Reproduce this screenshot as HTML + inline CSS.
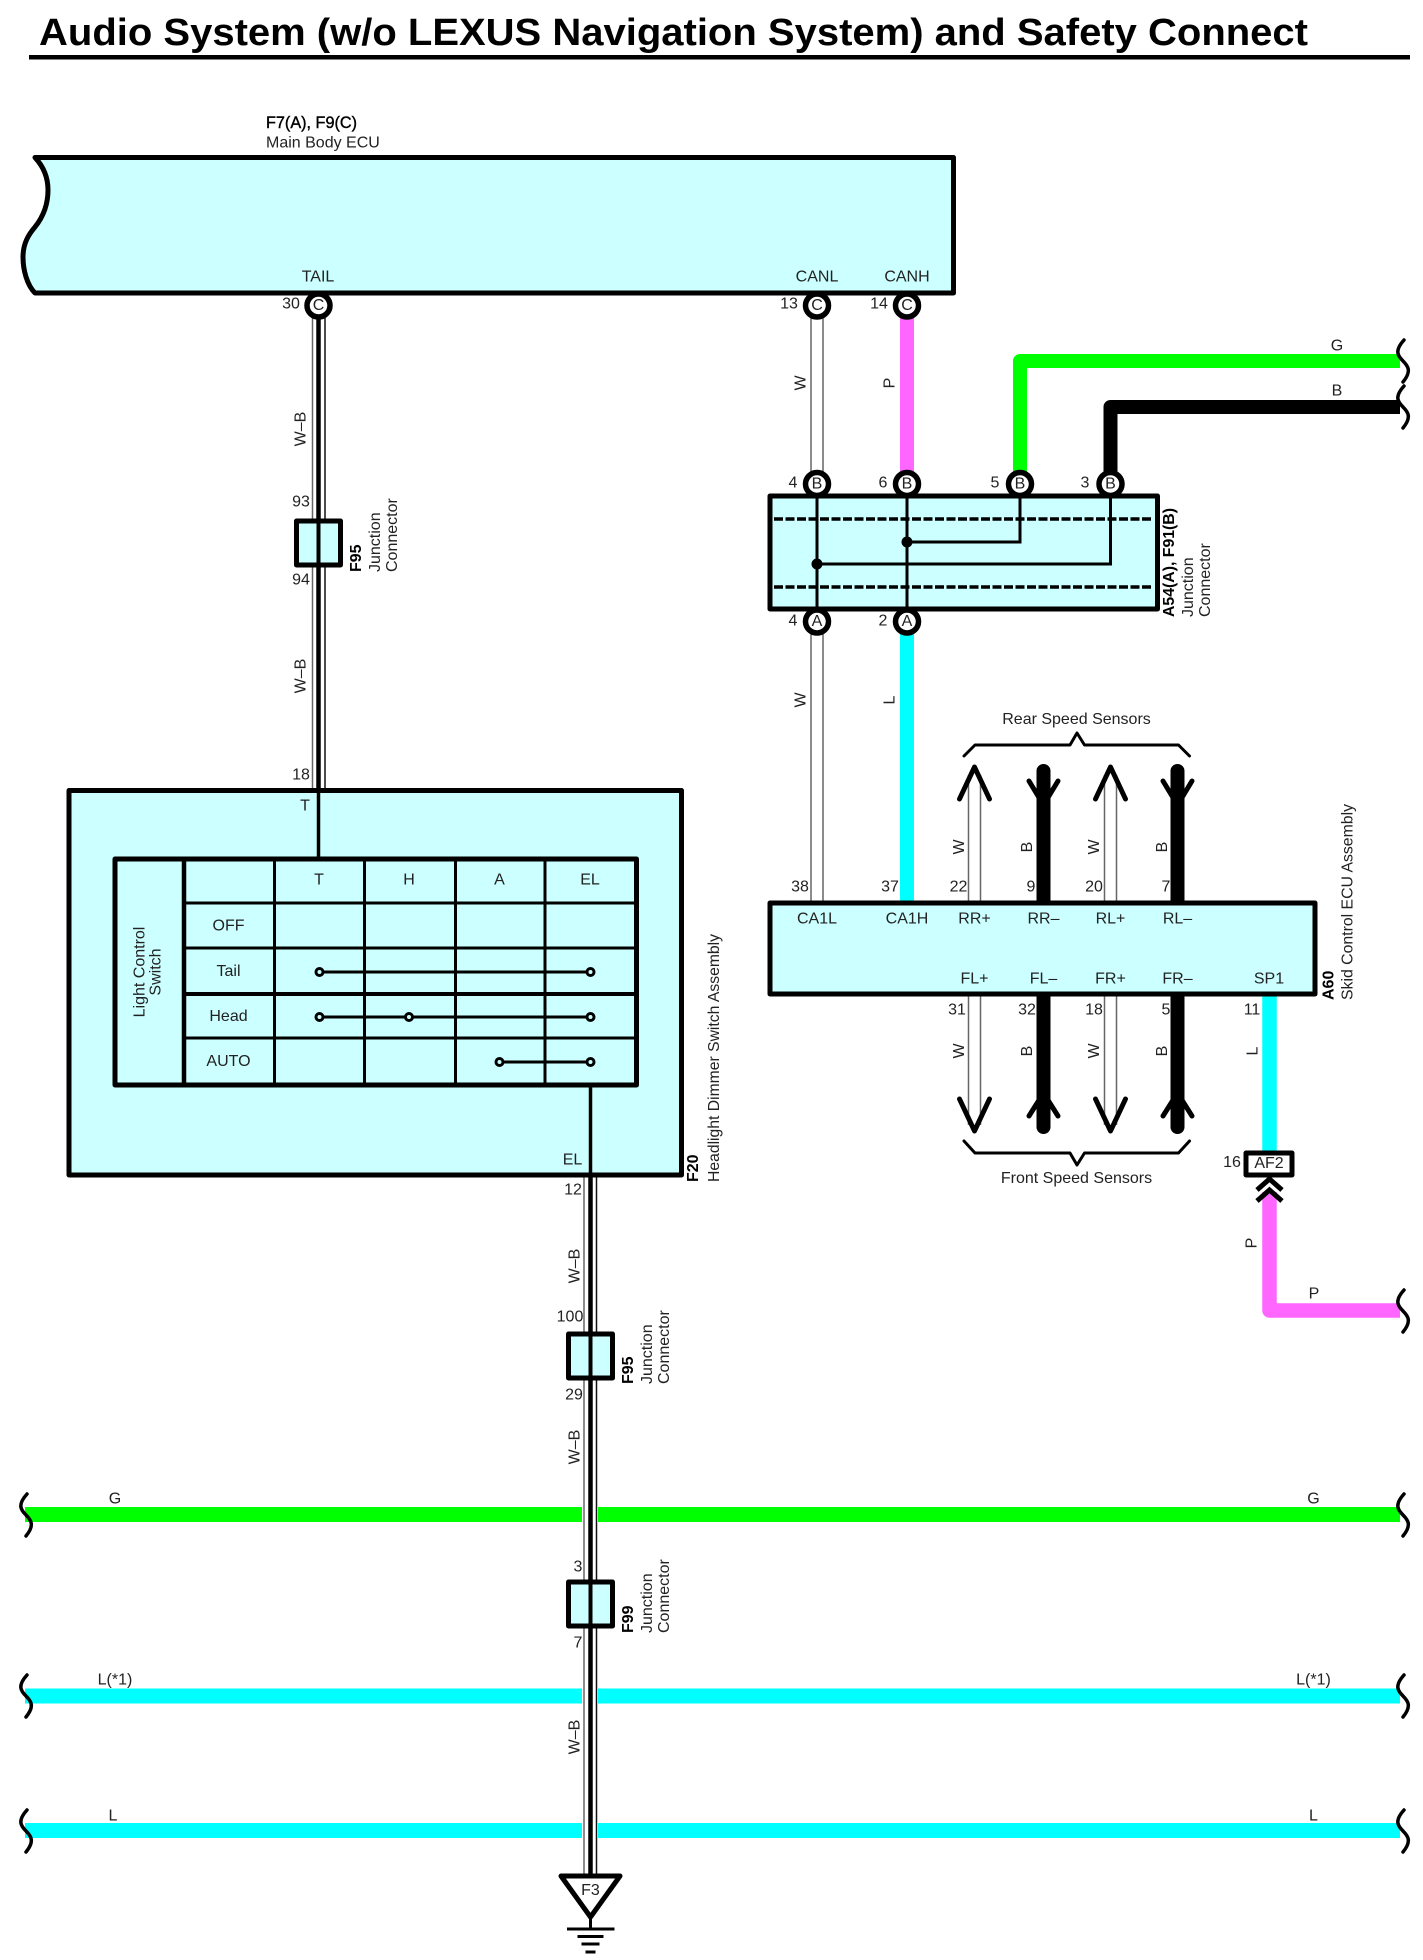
<!DOCTYPE html>
<html><head><meta charset="utf-8"><style>
html,body{margin:0;padding:0;background:#fff}
svg{display:block}
text{font-family:"Liberation Sans",sans-serif;font-size:16px;fill:#222;text-anchor:middle;dominant-baseline:central}
.s{text-anchor:start;dominant-baseline:alphabetic}
.b{font-weight:bold;fill:#000}
.box{fill:#ccffff;stroke:#000;stroke-width:5;stroke-linejoin:round}
.c{fill:#fff;stroke:#000;stroke-width:5.5}
.gr{stroke:#666;stroke-width:1.5;fill:none}
.bl{stroke:#111;stroke-width:1.5;fill:none}
.k{stroke:#000;fill:none}
.sq{stroke:#000;stroke-width:3.5;fill:none;stroke-linecap:round}
</style></head><body>
<svg xmlns="http://www.w3.org/2000/svg" width="1423" height="1960" viewBox="0 0 1423 1960">
<rect width="1423" height="1960" fill="#fff"/>
<text class="s b" x="39" y="45" style="font-size:38px" textLength="1269" lengthAdjust="spacingAndGlyphs">Audio System (w/o LEXUS Navigation System) and Safety Connect</text>
<rect x="29" y="55" width="1381" height="4.5" fill="#000"/>

<text class="s b" x="266" y="128" textLength="91" lengthAdjust="spacingAndGlyphs" style="font-size:17px;font-weight:normal;stroke:#000;stroke-width:.4">F7(A), F9(C)</text>
<text class="s" x="266" y="147.5">Main Body ECU</text>

<!-- colored wires -->
<g fill="none" stroke-linejoin="round">
<path d="M907 318V484" stroke="#ff66ff" stroke-width="14"/>
<path d="M1020 484V361H1400" stroke="#00ff00" stroke-width="14"/>
<path d="M1110.500 484V407H1400" stroke="#000" stroke-width="14"/>
<path d="M907 620V903" stroke="#00ffff" stroke-width="14"/>
<path d="M1269.500 994V1152" stroke="#00ffff" stroke-width="14.500"/>
<path d="M1269.500 1192V1310.500H1400" stroke="#ff66ff" stroke-width="14.500"/>
<path d="M25 1514.500H582M598 1514.500H1400" stroke="#00ff00" stroke-width="15"/>
<path d="M25 1696H582M598 1696H1400" stroke="#00ffff" stroke-width="15"/>
<path d="M25 1830.500H582M598 1830.500H1400" stroke="#00ffff" stroke-width="15"/>
</g>

<!-- squiggles -->
<g class="sq">
<path class="sq" d="M1404 340C1394 351 1398 356 1403 361C1408 366 1412 371 1403 382"/>
<path class="sq" d="M1404 386C1394 397 1398 402 1403 407C1408 412 1412 417 1403 428"/>
<path class="sq" d="M1404 1290C1394 1301 1398 1306 1403 1311C1408 1316 1412 1321 1403 1332"/>
<path class="sq" d="M1404 1494C1394 1505 1398 1510 1403 1515C1408 1520 1412 1525 1403 1536"/>
<path class="sq" d="M1404 1675C1394 1686 1398 1691 1403 1696C1408 1701 1412 1706 1403 1717"/>
<path class="sq" d="M1404 1810C1394 1821 1398 1826 1403 1831C1408 1836 1412 1841 1403 1852"/>
<path class="sq" d="M27 1494C17 1505 21 1510 26 1515C31 1520 35 1525 26 1536"/>
<path class="sq" d="M27 1675C17 1686 21 1691 26 1696C31 1701 35 1706 26 1717"/>
<path class="sq" d="M27 1810C17 1821 21 1826 26 1831C31 1836 35 1841 26 1852"/>
</g>

<!-- W-B wires -->
<path class="gr" d="M312.500 318V792"/><path class="bl" d="M325 318V792"/><path class="k" stroke-width="4.500" d="M318.500 318V792"/>
<path class="gr" d="M584 1175V1876"/><path class="bl" d="M596.500 1175V1876"/><path class="k" stroke-width="4.500" d="M590.500 1175V1876"/>

<!-- W wires -->
<path class="gr" d="M811 318V484M823 318V484M811 620V903M823 620V903"/>
<path class="gr" d="M968.500 775V903M980.500 775V903M1104.500 775V903M1116.500 775V903"/>
<path class="gr" d="M968.500 994V1125M980.500 994V1125M1104.500 994V1125M1116.500 994V1125"/>

<!-- black sensor wires -->
<g class="k" stroke-linecap="round" stroke-width="14">
<path d="M1043.500 771V903M1177.500 771V903M1043.500 994V1127M1177.500 994V1127"/>
</g>
<g class="k" stroke-width="5" stroke-linecap="round" stroke-linejoin="round">
<path d="M959.500 799L974.500 767L989.500 799M1095.500 799L1110.500 767L1125.500 799"/>
<path d="M959.500 1099L974.500 1131L989.500 1099M1095.500 1099L1110.500 1131L1125.500 1099"/>
<path d="M1029 781L1043.500 805L1058 781M1163 781L1177.500 805L1192 781"/>
<path d="M1029 1116L1043.500 1093L1058 1116M1163 1116L1177.500 1093L1192 1116"/>
</g>

<!-- Main Body ECU -->
<path class="box" d="M35 157.500H953.500V293H35C27 285 23 270 23 257C23 243 29 234 35 227C43 217 48 205 48 190C48 176 42 165 35 157.500Z"/>
<text x="318" y="277">TAIL</text><text x="817" y="277">CANL</text><text x="907" y="277">CANH</text>

<!-- Junction A54 -->
<rect class="box" x="770" y="496" width="387.500" height="113"/>
<path class="k" stroke-width="3.500" stroke-dasharray="9 2.500" d="M774 519H1153M774 587H1153"/>
<path class="k" stroke-width="3" d="M817 496V609M907 496V609M1020 496V542H907M1110.500 496V564H817"/>
<circle cx="907" cy="542" r="5.500"/><circle cx="817" cy="564" r="5.500"/>

<!-- connector circles -->
<g>
<circle class="c" cx="318.500" cy="305.500" r="11.500"/><text x="318.500" y="305.500">C</text>
<circle class="c" cx="817" cy="305.500" r="11.500"/><text x="817" y="305.500">C</text>
<circle class="c" cx="907" cy="305.500" r="11.500"/><text x="907" y="305.500">C</text>
<circle class="c" cx="817" cy="484" r="11.500"/><text x="817" y="484">B</text>
<circle class="c" cx="907" cy="484" r="11.500"/><text x="907" y="484">B</text>
<circle class="c" cx="1020" cy="484" r="11.500"/><text x="1020" y="484">B</text>
<circle class="c" cx="1110.500" cy="484" r="11.500"/><text x="1110.500" y="484">B</text>
<circle class="c" cx="817" cy="621.500" r="11.500"/><text x="817" y="621.500">A</text>
<circle class="c" cx="907" cy="621.500" r="11.500"/><text x="907" y="621.500">A</text>
</g>
<text x="291" y="304">30</text><text x="789" y="304">13</text><text x="879" y="304">14</text>
<text x="793" y="483">4</text><text x="883" y="483">6</text><text x="995" y="483">5</text><text x="1085" y="483">3</text>
<text x="793" y="621">4</text><text x="883" y="621">2</text>

<!-- junction labels -->
<text class="s b" transform="translate(1174 617) rotate(-90)" textLength="109" lengthAdjust="spacingAndGlyphs">A54(A), F91(B)</text>
<text class="s" transform="translate(1193 617) rotate(-90)">Junction</text>
<text class="s" transform="translate(1210 617) rotate(-90)">Connector</text>

<!-- wire labels -->
<g>
<text transform="translate(801 383) rotate(-90)">W</text>
<text transform="translate(890 383) rotate(-90)">P</text>
<text transform="translate(801 700) rotate(-90)">W</text>
<text transform="translate(890 700) rotate(-90)">L</text>
<text x="1337" y="346">G</text><text x="1337" y="391">B</text>
<text transform="translate(301 429) rotate(-90)">W–B</text>
<text transform="translate(301 676) rotate(-90)">W–B</text>
<text transform="translate(575 1266) rotate(-90)">W–B</text>
<text transform="translate(575 1447) rotate(-90)">W–B</text>
<text transform="translate(575 1737) rotate(-90)">W–B</text>
<text x="301" y="502">93</text><text x="301" y="580">94</text><text x="301" y="775">18</text>
<text x="573" y="1190">12</text><text x="570" y="1317">100</text><text x="574" y="1395">29</text><text x="578" y="1567">3</text><text x="578" y="1643">7</text>
<text x="115" y="1499">G</text><text x="1313.500" y="1499">G</text>
<text x="115" y="1680">L(*1)</text><text x="1313.500" y="1680">L(*1)</text>
<text x="113" y="1816">L</text><text x="1313.500" y="1816">L</text>
</g>

<!-- small junction boxes -->
<rect class="box" x="296.500" y="521" width="44" height="44"/>
<path class="k" stroke-width="4" d="M318.500 520V566"/>
<text class="s b" transform="translate(361 572) rotate(-90)">F95</text>
<text class="s" transform="translate(380 572) rotate(-90)">Junction</text>
<text class="s" transform="translate(397 572) rotate(-90)">Connector</text>

<rect class="box" x="568.500" y="1334" width="44" height="44"/>
<path class="k" stroke-width="4" d="M590.500 1332V1380"/>
<text class="s b" transform="translate(633 1384) rotate(-90)">F95</text>
<text class="s" transform="translate(652 1384) rotate(-90)">Junction</text>
<text class="s" transform="translate(669 1384) rotate(-90)">Connector</text>

<rect class="box" x="568.500" y="1582" width="44" height="44"/>
<path class="k" stroke-width="4" d="M590.500 1580V1628"/>
<text class="s b" transform="translate(633 1633) rotate(-90)">F99</text>
<text class="s" transform="translate(652 1633) rotate(-90)">Junction</text>
<text class="s" transform="translate(669 1633) rotate(-90)">Connector</text>

<!-- Headlight dimmer -->
<rect class="box" x="69" y="790.500" width="612.500" height="384.500"/>
<rect class="box" x="115" y="859" width="521.500" height="226"/>
<path class="k" stroke-width="3.500" d="M318.500 790V859M590.500 1085V1175"/>
<path class="k" stroke-width="4.500" d="M184 859V1085"/>
<path class="k" stroke-width="3" d="M274.500 859V1085M364.500 859V1085M455.500 859V1085M545 859V1085M184 903H636.500M184 948H636.500M184 1038H636.500"/>
<path class="k" stroke-width="4" d="M184 994H636.500"/>
<path class="k" stroke-width="3" d="M319.500 972H590.500M319.500 1017H590.500M499.500 1062H590.500"/>
<g fill="#ccffff" stroke="#000" stroke-width="3">
<circle cx="319.500" cy="972" r="3.500"/><circle cx="590.500" cy="972" r="3.500"/>
<circle cx="319.500" cy="1017" r="3.500"/><circle cx="409" cy="1017" r="3.500"/><circle cx="590.500" cy="1017" r="3.500"/>
<circle cx="499.500" cy="1062" r="3.500"/><circle cx="590.500" cy="1062" r="3.500"/>
</g>
<text x="319" y="880">T</text><text x="409" y="880">H</text><text x="499.500" y="880">A</text><text x="590" y="880">EL</text>
<text x="228.500" y="926">OFF</text><text x="228.500" y="971.500">Tail</text><text x="228.500" y="1016.500">Head</text><text x="228.500" y="1061.500">AUTO</text>
<text transform="translate(140 972) rotate(-90)">Light Control</text>
<text transform="translate(156 972) rotate(-90)">Switch</text>
<text x="305" y="806">T</text><text x="572.500" y="1160">EL</text>
<text class="s b" transform="translate(698 1182) rotate(-90)">F20</text>
<text class="s" transform="translate(719 1182) rotate(-90)" textLength="248" lengthAdjust="spacingAndGlyphs">Headlight Dimmer Switch Assembly</text>

<!-- Skid control ECU -->
<rect class="box" x="770" y="903" width="545" height="91"/>
<g>
<text x="817" y="919">CA1L</text><text x="907" y="919">CA1H</text><text x="974.500" y="919">RR+</text><text x="1043.500" y="919">RR–</text><text x="1110.500" y="919">RL+</text><text x="1177.500" y="919">RL–</text>
<text x="974.500" y="979">FL+</text><text x="1043.500" y="979">FL–</text><text x="1110.500" y="979">FR+</text><text x="1177.500" y="979">FR–</text><text x="1269" y="979">SP1</text>
<text x="800" y="887">38</text><text x="890" y="887">37</text><text x="958.500" y="887">22</text><text x="1031" y="887">9</text><text x="1094" y="887">20</text><text x="1166" y="887">7</text>
<text x="957" y="1010">31</text><text x="1027" y="1010">32</text><text x="1094" y="1010">18</text><text x="1166" y="1010">5</text><text x="1252" y="1010">11</text>
<text transform="translate(959.500 847) rotate(-90)">W</text><text transform="translate(1027.500 847) rotate(-90)">B</text>
<text transform="translate(1094.500 847) rotate(-90)">W</text><text transform="translate(1162.500 847) rotate(-90)">B</text>
<text transform="translate(959.500 1051) rotate(-90)">W</text><text transform="translate(1027.500 1051) rotate(-90)">B</text>
<text transform="translate(1094.500 1051) rotate(-90)">W</text><text transform="translate(1162.500 1051) rotate(-90)">B</text>
<text transform="translate(1253 1051) rotate(-90)">L</text>
<text transform="translate(1252 1243) rotate(-90)">P</text>
<text x="1314" y="1294">P</text>
</g>
<text class="s b" transform="translate(1333.500 1000) rotate(-90)">A60</text>
<text class="s" transform="translate(1352.500 1000) rotate(-90)" textLength="196" lengthAdjust="spacingAndGlyphs">Skid Control ECU Assembly</text>

<!-- brackets -->
<path class="k" stroke-width="3" stroke-linecap="round" stroke-linejoin="round" d="M964 756L975 745H1070L1077 733L1084.500 745H1178.500L1189.500 756"/>
<path class="k" stroke-width="3" stroke-linecap="round" stroke-linejoin="round" d="M964 1141L975 1153H1070L1077 1165L1084.500 1153H1178.500L1189.500 1141"/>
<text x="1076.500" y="719.500">Rear Speed Sensors</text>
<text x="1076.500" y="1178.500">Front Speed Sensors</text>

<!-- AF2 -->
<rect x="1246" y="1153" width="46" height="22" fill="#fff" stroke="#000" stroke-width="5" stroke-linejoin="round"/>
<text x="1269" y="1163.500">AF2</text>
<text x="1232" y="1162.500">16</text>
<path class="k" stroke-width="5" d="M1257 1190L1269.500 1179L1282 1190M1257 1201L1269.500 1190L1282 1201"/>

<!-- Ground -->
<path d="M561 1876H620L590.500 1917Z" fill="#fff" stroke="#000" stroke-width="5" stroke-linejoin="round"/>
<text x="590.500" y="1890.500">F3</text>
<path class="k" stroke-width="3" d="M590.500 1917V1929M567 1929H614.500M577.500 1936.500H603.500M581.500 1944H599.500M585.500 1952H595.500"/>
</svg>
</body></html>
